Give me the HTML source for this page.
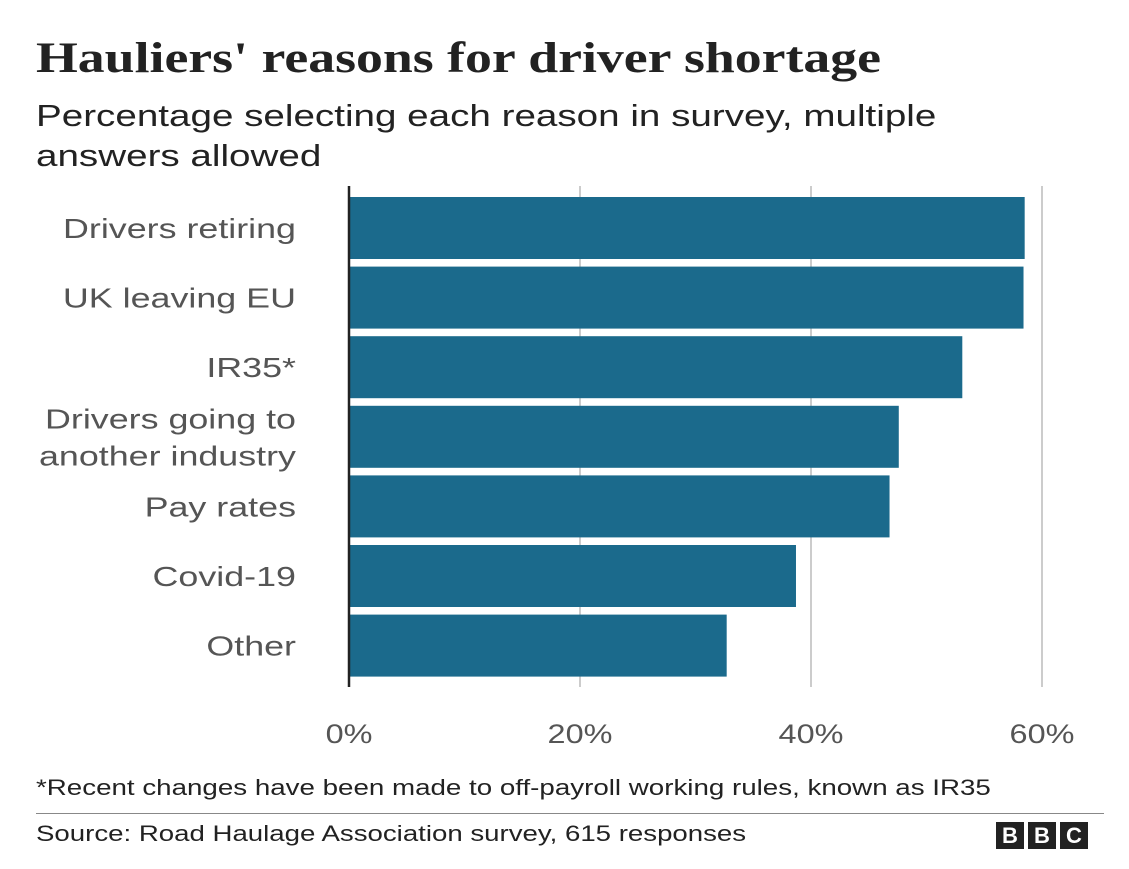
<!DOCTYPE html>
<html><head><meta charset="utf-8"><style>
body{margin:0;background:#fff;width:1129px;height:869px;overflow:hidden;font-family:"Liberation Sans",sans-serif;position:relative}
.t{position:absolute;white-space:nowrap;transform-origin:0 0}
</style></head><body>
<div class="t" style="left:36px;top:34px;font-family:'Liberation Serif',serif;font-weight:bold;font-size:43px;color:#222;transform:scaleX(1.25)">Hauliers' reasons for driver shortage</div>
<div class="t" style="left:36px;top:96px;font-size:31px;line-height:40px;color:#222;transform:scaleX(1.245)">Percentage selecting each reason in survey, multiple<br>answers allowed</div>
<svg id="chart" width="1129" height="869" style="position:absolute;left:0;top:0"></svg>
<div class="t" style="left:36px;top:775px;font-size:22px;color:#222;transform:scaleX(1.26)">*Recent changes have been made to off-payroll working rules, known as IR35</div>
<div style="position:absolute;left:36px;top:813px;width:1068px;height:1px;background:#888"></div>
<div class="t" style="left:36px;top:821px;font-size:22px;color:#222;transform:scaleX(1.255)">Source: Road Haulage Association survey, 615 responses</div>
<div style="position:absolute;left:996px;top:822px;display:flex;gap:4px">
<span style="width:28px;height:27px;background:#222;color:#fff;font:bold 22px 'Liberation Sans';text-align:center;line-height:27px">B</span>
<span style="width:28px;height:27px;background:#222;color:#fff;font:bold 22px 'Liberation Sans';text-align:center;line-height:27px">B</span>
<span style="width:28px;height:27px;background:#222;color:#fff;font:bold 22px 'Liberation Sans';text-align:center;line-height:27px">C</span>
</div>
<script>
const categories=[["Drivers retiring"],["UK leaving EU"],["IR35*"],["Drivers going to","another industry"],["Pay rates"],["Covid-19"],["Other"]];
const values=[58.5,58.4,53.1,47.6,46.8,38.7,32.7];
const ticks=[0,20,40,60];
const tickLabels=["0%","20%","40%","60%"];
const svg=document.getElementById('chart');const NS='http://www.w3.org/2000/svg';
const x=v=>349+v*11.55;
const y=i=>197+i*69.6;
function mk(tag,a){const e=document.createElementNS(NS,tag);for(const k in a)e.setAttribute(k,a[k]);svg.appendChild(e);return e;}
function widen(t,f){const w=t.getComputedTextLength();t.setAttribute('textLength',w*f);t.setAttribute('lengthAdjust','spacingAndGlyphs');}
ticks.forEach((t,i)=>{
 if(t>0){const g=mk('line',{x1:x(t),x2:x(t),y1:186,y2:687,stroke:'#ccc','stroke-width':2});
 
 }
 const l=mk('text',{x:x(t),y:743,'text-anchor':'middle','font-size':27,fill:'#555','font-family':'Liberation Sans'});
 l.textContent=tickLabels[i];
 
 
 widen(l,1.2);
});
values.forEach((v,i)=>{
 const r=mk('rect',{x:x(0),y:y(i),width:x(v)-x(0),height:62,fill:'#1b6a8c'});
 
 
 const lines=categories[i];
 const cy=y(i)+31;
 lines.forEach((s,j)=>{
  const t=mk('text',{x:296,y:cy+10+(j-(lines.length-1)/2)*37,'text-anchor':'end','font-size':28,fill:'#555','font-family':'Liberation Sans'});
  t.textContent=s;
  
  
  widen(t,1.28);
 });
});
const ax=mk('line',{x1:349,x2:349,y1:186,y2:687,stroke:'#222','stroke-width':2.5});


</script>
</body></html>
